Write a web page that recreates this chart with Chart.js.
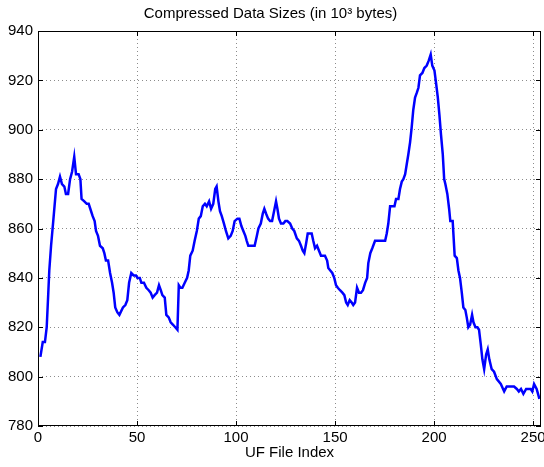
<!DOCTYPE html>
<html>
<head>
<meta charset="utf-8">
<script src="https://cdn.jsdelivr.net/npm/chart.js@4.4.0/dist/chart.umd.min.js"></script>
<style>
  html, body { margin: 0; padding: 0; background: #ffffff; }
  canvas { display: block; }
</style>
</head>
<body>
<canvas id="chart" width="544" height="467"></canvas>
<script>
// values
const fileIndex = [
  1.2, 2.4, 3.5, 4.4, 5.2, 5.7, 6.6, 7.7, 9.1, 10.1, 11.1, 12.1, 13.3, 14.1, 15.2, 16.2, 17.2, 18.3, 19.2, 20.5,
  21.4, 22, 23.4, 24.6, 25.6, 26.4, 27.6, 28.6, 29.3, 30.3, 31.3, 32.7, 33.5, 34.3, 35.4, 36.4, 37.4, 38.2, 39, 40.1,
  41.1, 42.9, 44.1, 45.1, 46, 47.1, 48.3, 49.5, 50.2, 51.4, 52.2, 53.5, 54.7, 55.9, 56.9, 57.9, 58.9, 60.1, 61.1, 62,
  62.8, 64, 64.8, 66, 67, 68.2, 69.3, 70.4, 71.1, 71.9, 72.9, 74.1, 75.3, 76.1, 76.9, 78.1, 79.1, 80.2, 81.2, 82.2,
  83.2, 84.3, 85.2, 86.4, 87.4, 88.5, 89.5, 90.2, 91.1, 91.9, 92.8, 93.9, 94.9, 96.1, 97.3, 98.3, 99.3, 100.7, 101.7, 102.7,
  103.7, 104.7, 105.4, 106.2, 107.4, 108.4, 109.4, 110.5, 111.3, 112.5, 113.5, 114.3, 115.2, 116.2, 117.2, 118.2, 119.2, 120.2, 120.9, 121.7,
  122.7, 123.9, 124.9, 125.9, 127.3, 128.4, 129.4, 130.7, 131.8, 132.8, 133.7, 134.5, 135.4, 136.2, 137.4, 138.2, 139, 139.9, 140.9, 141.9,
  142.9, 143.9, 144.9, 146, 146.6, 147.6, 148.6, 149.6, 150.5, 151.4, 152.5, 153.7, 154.7, 155.6, 156.4, 157.4, 158.4, 159.2, 160.1, 161.1,
  162.1, 163.1, 164.1, 165.2, 166.2, 166.8, 167.8, 168.8, 170.2, 171.4, 172.7, 173.9, 175.3, 176.1, 176.9, 177.8, 178.8, 180, 180.8, 182,
  182.8, 183.7, 184.5, 185.4, 186.2, 187, 187.9, 188.7, 189.5, 190.4, 191.3, 192.1, 192.9, 194.1, 195.1, 196.3, 197.3, 198.3, 199.1, 200.2,
  201, 201.9, 202.7, 203.5, 204.4, 205.1, 205.7, 206.7, 207.6, 208.2, 209.4, 210.4, 211.5, 212.3, 213.1, 214, 214.8, 215.8, 216.5, 217.3,
  218.2, 219.2, 219.9, 220.9, 221.9, 222.7, 223.6, 224.4, 225.3, 226.3, 227.1, 227.9, 229.1, 230.3, 231.7, 233.7, 235.4, 236.7, 238, 239.2,
  240.4, 241.8, 242.8, 243.9, 245.1, 246.5, 247.6, 248.8, 249.6, 250.5, 251.8, 253.2
];

const dataSize = [
  808, 814, 814, 820, 834, 843, 853, 863, 876, 878, 881, 878, 877, 874, 874, 880, 883, 889, 882, 882,
  880, 872, 871, 870, 870, 868, 865, 863, 859, 857, 853, 852, 850, 847, 847, 842, 838, 834, 828, 826,
  825, 828, 829, 831, 838, 842, 841, 841, 840, 840, 838, 838, 836, 835, 834, 832, 833, 834, 837, 835,
  833, 832, 825, 824, 822, 821, 820, 819, 837, 836, 836, 838, 840, 843, 849, 851, 855, 859, 864, 865,
  869, 870, 869, 871, 868, 870, 876, 877, 871, 867, 865, 862, 859, 856, 857, 859, 863, 864, 864, 861,
  859, 857, 855, 853, 853, 853, 853, 857, 860, 862, 866, 868, 866, 864, 863, 863, 867, 871, 868, 864,
  862, 862, 863, 863, 862, 860, 859, 856, 855, 853, 851, 850, 854, 858, 858, 858, 855, 852, 853, 851,
  849, 849, 849, 847, 844, 843, 842, 840, 837, 836, 835, 834, 833, 830, 829, 831, 830, 829, 830, 836,
  834, 834, 835, 838, 840, 846, 850, 852, 855, 855, 855, 855, 855, 858, 862, 869, 869, 869, 872, 872,
  876, 879, 880, 882, 886, 890, 895, 901, 908, 913, 915, 917, 922, 923, 925, 926, 928, 930.5, 926, 924,
  919, 913, 906, 898, 890, 880, 878, 874, 868, 863, 863, 849, 848, 843, 840, 834, 828, 827, 824, 820,
  821, 825, 822, 820, 820, 819, 813, 807, 803, 809, 811, 807, 803, 802, 799, 797, 794, 796, 796, 796,
  796, 795, 794, 795, 793, 795, 795, 795, 794, 797, 795, 791
];

const xTicks = [0, 50, 100, 150, 200, 250];
const yTicks = [780, 800, 820, 840, 860, 880, 900, 920, 940];

const FONT = "'Liberation Sans', Arial, Helvetica, sans-serif";

// MATLAB style box with inward ticks on all four sides
const axesBox = {
    id: "axesBox",
    afterDraw(chart) {
        const { ctx, chartArea: a, scales } = chart;
        ctx.save();
        ctx.strokeStyle = "#000000";
        ctx.lineWidth = 1;
        ctx.strokeRect(a.left + 0.5, a.top + 0.5, a.right - a.left - 1, a.bottom - a.top - 1);
        ctx.beginPath();
        xTicks.forEach(v => {
            const px = Math.round(scales.x.getPixelForValue(v)) + 0.5;
            ctx.moveTo(px, a.bottom); ctx.lineTo(px, a.bottom - 5);
            ctx.moveTo(px, a.top); ctx.lineTo(px, a.top + 5);
        });
        yTicks.forEach(v => {
            const py = Math.round(scales.y.getPixelForValue(v)) + 0.5;
            ctx.moveTo(a.left, py); ctx.lineTo(a.left + 5, py);
            ctx.moveTo(a.right, py); ctx.lineTo(a.right - 5, py);
        });
        ctx.stroke();
        ctx.restore();
    }
};

new Chart(document.getElementById("chart"), {
    type: "line",
    data: {
        datasets: [{
            data: fileIndex.map((x, i) => ({ x, y: dataSize[i] })),
            borderColor: "#0000ff",
            borderWidth: 2.5,
            pointRadius: 0,
            tension: 0,
            fill: false
        }]
    },
    options: {
        responsive: false,
        animation: false,
        layout: { padding: { top: 0, right: 3, bottom: 0, left: 0 } },
        plugins: {
            legend: { display: false },
            tooltip: { enabled: false },
            title: {
                display: true,
                text: "Compressed Data Sizes (in 10\u00B3 bytes)",
                color: "#000000",
                font: { family: FONT, size: 15, weight: "normal" },
                padding: { top: 5, bottom: 8 }
            }
        },
        scales: {
            x: {
                type: "linear",
                min: 0,
                max: 254,
                afterBuildTicks: s => { s.ticks = xTicks.map(v => ({ value: v })); },
                afterFit: s => { s.height = 41; s.paddingLeft = 0; s.paddingRight = 0; },
                grid: { color: "rgba(0,0,0,0.45)", drawTicks: false, tickLength: 0 },
                border: { display: false, dash: [1, 3] },
                ticks: { color: "#000000", font: { family: FONT, size: 15 }, padding: 3, maxRotation: 0 },
                title: {
                    display: true,
                    text: "UF File Index",
                    color: "#000000",
                    font: { family: FONT, size: 15 },
                    padding: { top: 0, bottom: 5 }
                }
            },
            y: {
                min: 780,
                max: 940,
                afterBuildTicks: s => { s.ticks = yTicks.map(v => ({ value: v })); },
                afterFit: s => { s.width = 38; },
                grid: { color: "rgba(0,0,0,0.45)", drawTicks: false, tickLength: 0 },
                border: { display: false, dash: [1, 3] },
                ticks: { color: "#000000", font: { family: FONT, size: 15 }, padding: 5 }
            }
        }
    },
    plugins: [axesBox]
});
</script>
</body>
</html>
